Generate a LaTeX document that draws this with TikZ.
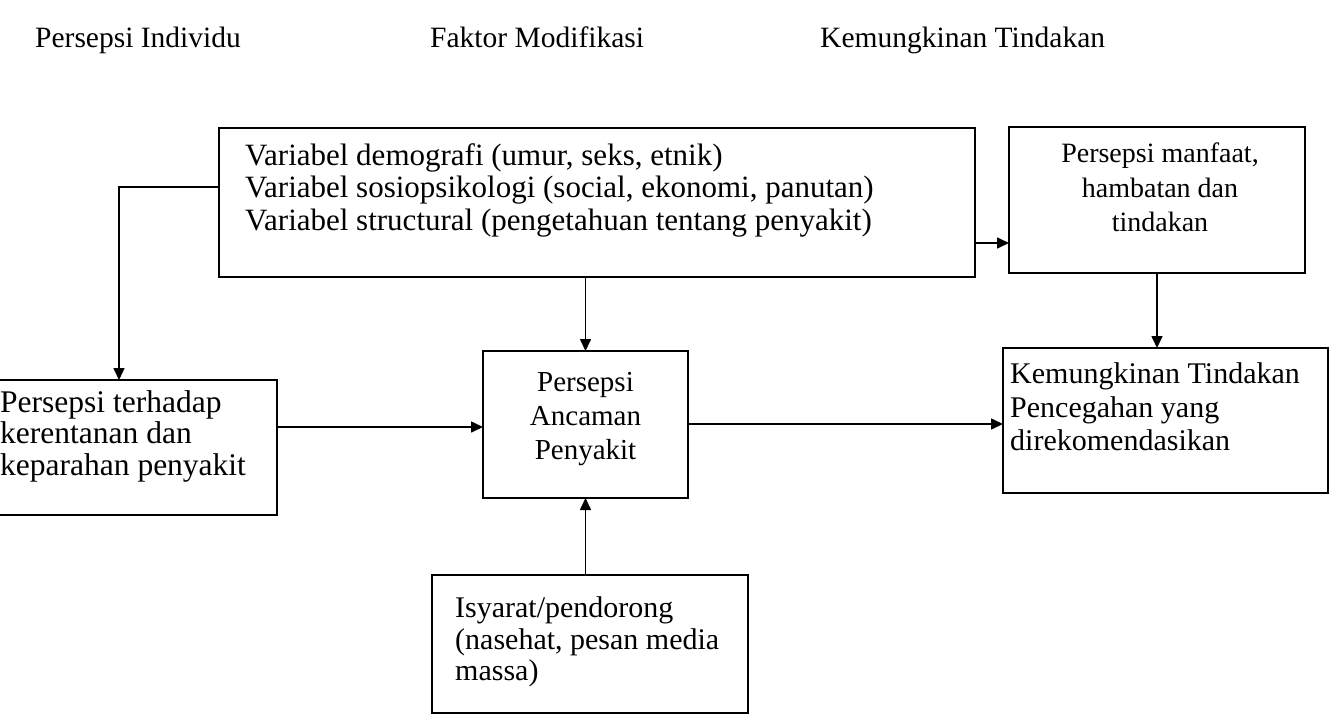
\documentclass[tikz,border=0pt]{standalone}
\usepackage{fontspec}
\setmainfont{Liberation Serif}
\usetikzlibrary{arrows.meta,calc}
\begin{document}
\begin{tikzpicture}[x=1pt,y=-1pt,
  box/.style={draw,line width=1.8pt,inner sep=0pt,outer sep=0pt},
  txt/.style={inner sep=0pt,font=\fontsize{30}{32}\selectfont,anchor=north west,align=left},
  ctxt/.style={inner sep=0pt,font=\fontsize{29}{34}\selectfont,anchor=north,align=center},
  head/.style={inner sep=0pt,font=\fontsize{29.5}{33}\selectfont,anchor=base west},
  conn/.style={line width=1.6pt},
  arr/.style={conn,-{Triangle[length=12pt,width=11pt]}}]
\useasboundingbox (0,0) rectangle (1331,723);
% headers
\node[head] (h1) at (35,47) {Persepsi Individu};
\node[head] (h2) at (430,47) {Faktor Modifikasi};
\node[head] (h3) at (820,47) {Kemungkinan Tindakan};
% boxes
\node[box,minimum width=756pt,minimum height=149pt] (topbox) at (597,202.5) {};
\node[box,minimum width=296pt,minimum height=146pt] (manfaat) at (1157,200) {};
\node[box,minimum width=297pt,minimum height=135pt] (leftbox) at (128.5,447.5) {};
\node[box,minimum width=205pt,minimum height=147pt] (midbox) at (585.5,424.5) {};
\node[box,minimum width=325pt,minimum height=145pt] (kemung) at (1165.5,420.5) {};
\node[box,minimum width=316pt,minimum height=138pt] (isyarat) at (590,644) {};
% texts
\node[txt,font=\fontsize{31}{32.5}\selectfont] (ttop) at (245,143) {Variabel demografi (umur, seks, etnik)\\Variabel sosiopsikologi (social, ekonomi, panutan)\\Variabel structural (pengetahuan tentang penyakit)};
\node[ctxt,font=\fontsize{28}{34.5}\selectfont] (tmanfaat) at (1160,143) {Persepsi manfaat,\\hambatan dan\\tindakan};
\node[txt,font=\fontsize{31.5}{31.5}\selectfont] (tleft) at (0,390) {Persepsi terhadap\\kerentanan dan\\keparahan penyakit};
\node[ctxt] (tmid) at (585.5,372) {Persepsi\\Ancaman\\Penyakit};
\node[txt,font=\fontsize{30}{33.5}\selectfont] (tkem) at (1010,362.5) {Kemungkinan Tindakan\\Pencegahan yang\\direkomendasikan};
\node[txt,font=\fontsize{30}{31.5}\selectfont] (tisy) at (455,596.5) {Isyarat/pendorong\\(nasehat, pesan media\\massa)};
% connectors
\coordinate (lt) at (119,187);
\coordinate (ye) at (0,243);
\coordinate (ya) at (0,427);
\coordinate (yb) at (0,424);
\draw[arr] (topbox.west |- lt) -- (lt) -- (lt |- leftbox.north);
\draw[arr] (midbox.north |- topbox.south) -- (midbox.north);
\draw[arr] (topbox.east |- ye) -- (manfaat.west |- ye);
\draw[arr] (manfaat.south) -- (manfaat.south |- kemung.north);
\draw[arr] (leftbox.east |- ya) -- (midbox.west |- ya);
\draw[arr] (midbox.east |- yb) -- (kemung.west |- yb);
\draw[arr] (midbox.south |- isyarat.north) -- (midbox.south);
\end{tikzpicture}
\end{document}
